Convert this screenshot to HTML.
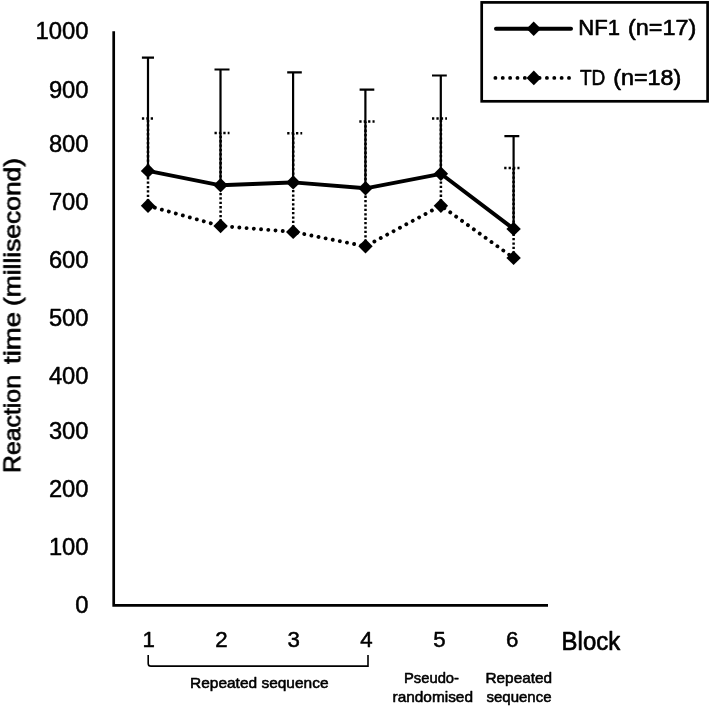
<!DOCTYPE html>
<html lang="en"><head><meta charset="utf-8"><title>Reaction time by block</title>
<style>html,body{margin:0;padding:0;background:#fff}svg{display:block}text{font-family:"Liberation Sans", sans-serif;fill:#000}</style></head><body>
<svg width="712" height="706" viewBox="0 0 712 706">
<rect width="712" height="706" fill="#fff"/>
<defs><filter id="soft" x="0" y="0" width="712" height="706" filterUnits="userSpaceOnUse"><feGaussianBlur stdDeviation="0.4"/></filter></defs>
<g filter="url(#soft)">
<path d="M113.7 31.3 V605.4 H548" fill="none" stroke="#000" stroke-width="2.7" stroke-linejoin="miter"/>
<text x="88.5" y="39.1" font-size="23.5" text-anchor="end" textLength="53.0" lengthAdjust="spacingAndGlyphs" stroke="#000" stroke-width="0.5" stroke-linejoin="round">1000</text>
<text x="88.5" y="97.5" font-size="23.5" text-anchor="end" textLength="39.6" lengthAdjust="spacingAndGlyphs" stroke="#000" stroke-width="0.5" stroke-linejoin="round">900</text>
<text x="88.5" y="152.3" font-size="23.5" text-anchor="end" textLength="39.6" lengthAdjust="spacingAndGlyphs" stroke="#000" stroke-width="0.5" stroke-linejoin="round">800</text>
<text x="88.5" y="210.0" font-size="23.5" text-anchor="end" textLength="39.6" lengthAdjust="spacingAndGlyphs" stroke="#000" stroke-width="0.5" stroke-linejoin="round">700</text>
<text x="88.5" y="268.2" font-size="23.5" text-anchor="end" textLength="39.6" lengthAdjust="spacingAndGlyphs" stroke="#000" stroke-width="0.5" stroke-linejoin="round">600</text>
<text x="88.5" y="326.2" font-size="23.5" text-anchor="end" textLength="39.6" lengthAdjust="spacingAndGlyphs" stroke="#000" stroke-width="0.5" stroke-linejoin="round">500</text>
<text x="88.5" y="383.8" font-size="23.5" text-anchor="end" textLength="39.6" lengthAdjust="spacingAndGlyphs" stroke="#000" stroke-width="0.5" stroke-linejoin="round">400</text>
<text x="88.5" y="439.3" font-size="23.5" text-anchor="end" textLength="39.6" lengthAdjust="spacingAndGlyphs" stroke="#000" stroke-width="0.5" stroke-linejoin="round">300</text>
<text x="88.5" y="497.3" font-size="23.5" text-anchor="end" textLength="39.6" lengthAdjust="spacingAndGlyphs" stroke="#000" stroke-width="0.5" stroke-linejoin="round">200</text>
<text x="88.5" y="555.0" font-size="23.5" text-anchor="end" textLength="39.6" lengthAdjust="spacingAndGlyphs" stroke="#000" stroke-width="0.5" stroke-linejoin="round">100</text>
<text x="88.5" y="613.1" font-size="23.5" text-anchor="end" textLength="13.2" lengthAdjust="spacingAndGlyphs" stroke="#000" stroke-width="0.5" stroke-linejoin="round">0</text>
<text x="148.8" y="647.0" font-size="22" text-anchor="middle" textLength="12.4" lengthAdjust="spacingAndGlyphs" stroke="#000" stroke-width="0.5" stroke-linejoin="round">1</text>
<text x="221.4" y="647.0" font-size="22" text-anchor="middle" textLength="12.4" lengthAdjust="spacingAndGlyphs" stroke="#000" stroke-width="0.5" stroke-linejoin="round">2</text>
<text x="293.8" y="647.0" font-size="22" text-anchor="middle" textLength="12.4" lengthAdjust="spacingAndGlyphs" stroke="#000" stroke-width="0.5" stroke-linejoin="round">3</text>
<text x="366.5" y="647.0" font-size="22" text-anchor="middle" textLength="12.4" lengthAdjust="spacingAndGlyphs" stroke="#000" stroke-width="0.5" stroke-linejoin="round">4</text>
<text x="439.4" y="647.0" font-size="22" text-anchor="middle" textLength="12.4" lengthAdjust="spacingAndGlyphs" stroke="#000" stroke-width="0.5" stroke-linejoin="round">5</text>
<text x="512.1" y="647.0" font-size="22" text-anchor="middle" textLength="12.4" lengthAdjust="spacingAndGlyphs" stroke="#000" stroke-width="0.5" stroke-linejoin="round">6</text>
<path d="M148.0 170.9 V57.6 M141.9 57.6 H154.0" fill="none" stroke="#000" stroke-width="2.2"/>
<path d="M220.5 185.3 V69.5 M214.5 69.5 H229.5" fill="none" stroke="#000" stroke-width="2.2"/>
<path d="M293.1 182.4 V72.3 M287.2 72.3 H301.8" fill="none" stroke="#000" stroke-width="2.2"/>
<path d="M365.4 188.3 V89.7 M359.6 89.7 H374.3" fill="none" stroke="#000" stroke-width="2.2"/>
<path d="M440.8 173.8 V75.5 M432.0 75.5 H446.8" fill="none" stroke="#000" stroke-width="2.2"/>
<path d="M513.6 228.9 V136.1 M504.4 136.1 H519.3" fill="none" stroke="#000" stroke-width="2.2"/>
<path d="M148.0 205.8 V118.4 M141.9 118.4 H153.4" fill="none" stroke="#000" stroke-width="2.5" stroke-dasharray="2.3 2.1"/>
<path d="M220.6 226.0 V133.0 M214.5 133.0 H229.5" fill="none" stroke="#000" stroke-width="2.5" stroke-dasharray="2.3 2.1"/>
<path d="M293.2 231.9 V133.3 M287.2 133.3 H302.2" fill="none" stroke="#000" stroke-width="2.5" stroke-dasharray="2.3 2.1"/>
<path d="M365.5 246.3 V121.5 M359.3 121.5 H374.6" fill="none" stroke="#000" stroke-width="2.5" stroke-dasharray="2.3 2.1"/>
<path d="M440.9 205.7 V118.5 M432.0 118.5 H447.0" fill="none" stroke="#000" stroke-width="2.5" stroke-dasharray="2.3 2.1"/>
<path d="M513.6 257.9 V168.0 M504.2 168.0 H519.5" fill="none" stroke="#000" stroke-width="2.5" stroke-dasharray="2.3 2.1"/>
<polyline points="148.0,170.9 220.6,185.3 293.2,182.4 365.5,188.3 440.9,173.8 513.6,228.9" fill="none" stroke="#000" stroke-width="3.9" stroke-linejoin="round" stroke-linecap="round"/>
<polyline points="148.0,205.8 220.6,226.0 293.2,231.9 365.5,246.3 440.9,205.7 513.6,257.9" fill="none" stroke="#000" stroke-width="3.9" stroke-linejoin="round" stroke-linecap="round" stroke-dasharray="0.01 7.245" stroke-dashoffset="0.15"/>
<path d="M148.0 163.7 L155.2 170.9 L148.0 178.1 L140.8 170.9Z" fill="#000"/>
<path d="M220.6 178.1 L227.8 185.3 L220.6 192.5 L213.4 185.3Z" fill="#000"/>
<path d="M293.2 175.2 L300.4 182.4 L293.2 189.6 L286.0 182.4Z" fill="#000"/>
<path d="M365.5 181.1 L372.7 188.3 L365.5 195.5 L358.3 188.3Z" fill="#000"/>
<path d="M440.9 166.6 L448.1 173.8 L440.9 181.0 L433.7 173.8Z" fill="#000"/>
<path d="M513.6 221.7 L520.8 228.9 L513.6 236.1 L506.4 228.9Z" fill="#000"/>
<path d="M148.0 198.6 L155.2 205.8 L148.0 213.0 L140.8 205.8Z" fill="#000"/>
<path d="M220.6 218.8 L227.8 226.0 L220.6 233.2 L213.4 226.0Z" fill="#000"/>
<path d="M293.2 224.7 L300.4 231.9 L293.2 239.1 L286.0 231.9Z" fill="#000"/>
<path d="M365.5 239.1 L372.7 246.3 L365.5 253.5 L358.3 246.3Z" fill="#000"/>
<path d="M440.9 198.5 L448.1 205.7 L440.9 212.9 L433.7 205.7Z" fill="#000"/>
<path d="M513.6 250.7 L520.8 257.9 L513.6 265.1 L506.4 257.9Z" fill="#000"/>
<rect x="481.7" y="2.4" width="225.9" height="98.9" fill="#fff" stroke="#000" stroke-width="2.7"/>
<path d="M496 28.8 H571" stroke="#000" stroke-width="4" stroke-linecap="round" fill="none"/>
<path d="M533.7 21.6 L540.9 28.8 L533.7 36.0 L526.5 28.8Z" fill="#000"/>
<path d="M495.4 77.9 H569.2" stroke="#000" stroke-width="3.9" stroke-linecap="round" stroke-dasharray="0.01 7.35" fill="none"/>
<path d="M533.8 70.6 L541.1 77.9 L533.8 85.2 L526.5 77.9Z" fill="#000"/>
<text x="578.3" y="35.4" font-size="22.3" textLength="41.6" lengthAdjust="spacingAndGlyphs" stroke="#000" stroke-width="0.65" stroke-linejoin="round">NF1</text>
<text x="628.1" y="35.4" font-size="22.3" textLength="68.2" lengthAdjust="spacingAndGlyphs" stroke="#000" stroke-width="0.65" stroke-linejoin="round">(n=17)</text>
<text x="579.9" y="85.3" font-size="22.3" textLength="25.4" lengthAdjust="spacingAndGlyphs" stroke="#000" stroke-width="0.65" stroke-linejoin="round">TD</text>
<text x="613.3" y="85.3" font-size="22.3" textLength="68.0" lengthAdjust="spacingAndGlyphs" stroke="#000" stroke-width="0.65" stroke-linejoin="round">(n=18)</text>
<text x="561.6" y="650.3" font-size="25" textLength="58.6" lengthAdjust="spacingAndGlyphs" stroke="#000" stroke-width="0.65" stroke-linejoin="round">Block</text>
<path d="M148.2 655 V663.4 Q148.2 666.1 151 666.1 H368 V655" fill="none" stroke="#000" stroke-width="1.6"/>
<text x="190.0" y="688.4" font-size="15" textLength="138.5" lengthAdjust="spacingAndGlyphs" stroke="#000" stroke-width="0.55" stroke-linejoin="round">Repeated sequence</text>
<text x="404.0" y="683.2" font-size="15" textLength="55.0" lengthAdjust="spacingAndGlyphs" stroke="#000" stroke-width="0.55" stroke-linejoin="round">Pseudo-</text>
<text x="392.5" y="702.0" font-size="15" textLength="80.5" lengthAdjust="spacingAndGlyphs" stroke="#000" stroke-width="0.55" stroke-linejoin="round">randomised</text>
<text x="485.5" y="683.2" font-size="15" textLength="66.5" lengthAdjust="spacingAndGlyphs" stroke="#000" stroke-width="0.55" stroke-linejoin="round">Repeated</text>
<text x="486.5" y="702.0" font-size="15" textLength="65.0" lengthAdjust="spacingAndGlyphs" stroke="#000" stroke-width="0.55" stroke-linejoin="round">sequence</text>
<g transform="translate(20.4 0) rotate(-90)">
<text x="-473.0" y="0.0" font-size="23.4" textLength="98.0" lengthAdjust="spacingAndGlyphs" stroke="#000" stroke-width="0.7" stroke-linejoin="round">Reaction</text>
<text x="-364.0" y="0.0" font-size="23.4" textLength="52.0" lengthAdjust="spacingAndGlyphs" stroke="#000" stroke-width="0.7" stroke-linejoin="round">time</text>
<text x="-306.0" y="0.0" font-size="23.4" textLength="148.0" lengthAdjust="spacingAndGlyphs" stroke="#000" stroke-width="0.7" stroke-linejoin="round">(millisecond)</text>
</g>
</g>
</svg></body></html>
